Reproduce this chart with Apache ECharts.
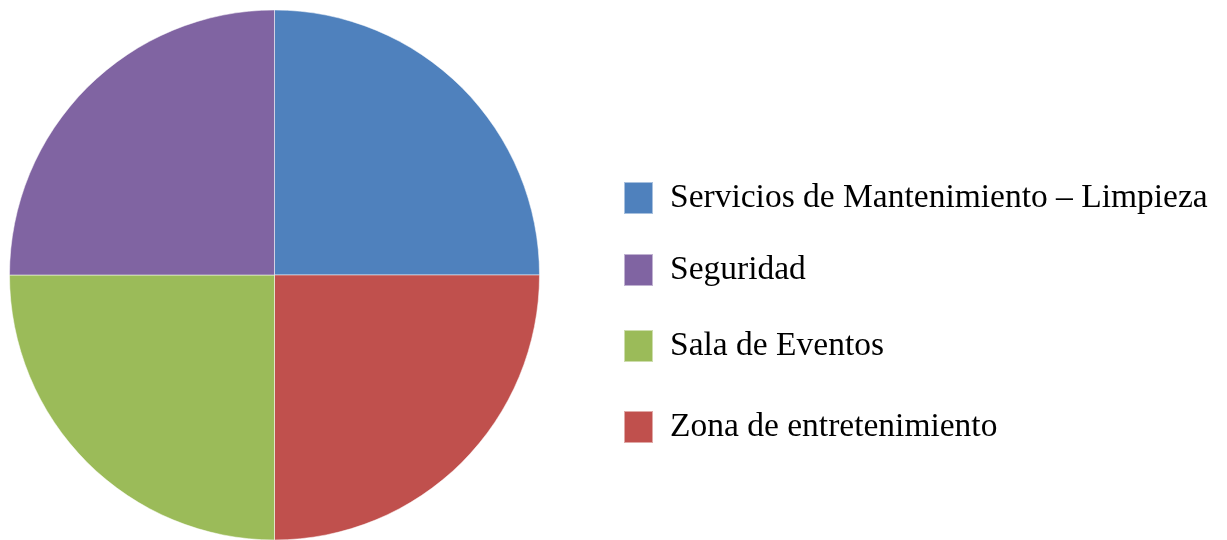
<!DOCTYPE html>
<html>
<head>
<meta charset="utf-8">
<script src="https://cdn.jsdelivr.net/npm/echarts@6/dist/echarts.min.js"></script>
<style>
    html, body { margin: 0; padding: 0; background: #fff; }
    #chart { width: 1227px; height: 540px; }
</style>
</head>
<body>
<div id="chart"></div>
<script>
// slices, clockwise from 12 o'clock
let categories = ['Servicios de Mantenimiento – Limpieza', 'Zona de entretenimiento', 'Sala de Eventos', 'Seguridad']
let values = [25, 25, 25, 25]
let colors = ['#4f81bd', '#c0504d', '#9bbb59', '#8064a2']
// legend order as shown
let legendOrder = ['Servicios de Mantenimiento – Limpieza', 'Seguridad', 'Sala de Eventos', 'Zona de entretenimiento']
let legendTops = [181, 253, 329, 410] // spacing isn't even in the original

let data = categories.map((name, i) => ({
    name: name,
    value: values[i],
    itemStyle: { color: colors[i] }
}))

// one legend per entry so each row can sit where it does in the picture
let legends = legendOrder.map((name, i) => ({
    data: [name],
    orient: 'vertical',
    left: 623,
    top: legendTops[i],
    padding: 0,
    icon: 'rect',
    itemWidth: 29,
    itemHeight: 32,
    textStyle: {
        fontFamily: 'Liberation Serif',
        fontSize: 33.5,
        lineHeight: 32,
        color: '#000',
        padding: [0, 0, 0, 12]
    }
}))

let option = {
    animation: false,
    legend: legends,
    series: [{
        type: 'pie',
        center: [274.5, 275],
        radius: 265,
        startAngle: 90,
        clockwise: true,
        label: { show: false },
        labelLine: { show: false },
        itemStyle: {
            borderColor: 'rgba(255,255,255,0.5)',
            borderWidth: 1
        },
        emphasis: { disabled: true },
        data: data
    }]
}

var myChart = echarts.init(document.getElementById('chart'))
myChart.setOption(option)
</script>
</body>
</html>
